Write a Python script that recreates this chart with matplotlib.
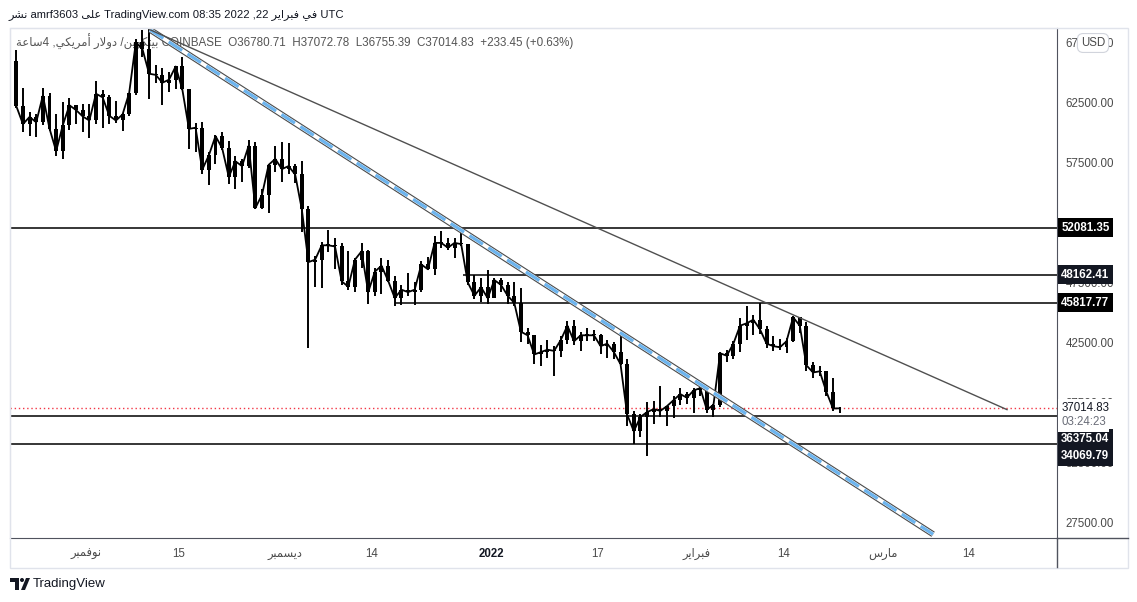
import numpy as np
import pandas as pd
import matplotlib
matplotlib.use("Agg")
import matplotlib.pyplot as plt
import matplotlib.dates as mdates
from matplotlib.patches import Rectangle, Polygon, Circle
from matplotlib.lines import Line2D
from matplotlib.transforms import Affine2D

plt.rcParams['font.family'] = ['Liberation Sans', 'DejaVu Sans']

# Arabic words, already shaped and put in visual (left-to-right) order
AR_NASHR = '\ufeae\ufeb8\ufee7'                       # نشر
AR_ALA = '\ufef0\ufee0\ufecb'                         # على
AR_FI = '\ufef2\ufed3'                                # في
AR_FEB = '\ufeae\ufef3\ufe8d\ufeae\ufe92\ufed3'       # فبراير
AR_DEC = '\ufeae\ufe92\ufee4\ufeb4\ufef3\ufea9'       # ديسمبر
AR_NOV = '\ufeae\ufe92\ufee4\ufed3\ufeee\ufee7'       # نوفمبر
AR_MAR = '\ufeb1\ufead\ufe8e\ufee3'                   # مارس
AR_BTC = '\ufee6\ufef3\ufeee\ufedc\ufe98\ufef4\ufe91' # بيتكوين
AR_DOLLAR = '\ufead\ufefb\ufeed\ufea9'                # دولار
AR_US = '\ufef2\ufedc\ufef3\ufeae\ufee3\ufe83'        # أمريكي
AR_HOUR = '\ufe94\ufecb\ufe8e\ufeb3'                  # ساعة

# ---- price data (BTC/USD, daily high / low / close) ----
first_open = 65990
oct_hi = [66900, 63700, 61700, 61500, 63700, 63300, 61500, 62500, 62900, 62300, 62400]
oct_lo = [62000, 60000, 59700, 59600, 60650, 60100, 58000, 57800, 60200, 60700, 60000]
oct_cl = [62200, 60700, 61300, 60850, 63080, 60330, 58450, 60600, 62270, 61870, 61340]

nov_hi = [62400, 64300, 63500, 63100, 62600, 61600, 63300, 67800, 68500, 69000,
          65600, 65400, 65000, 65500, 66300, 63600, 60800, 60900, 58400, 59800,
          60000, 59300, 58000, 57800, 59400, 59200, 55300, 57400, 58900, 59200]
nov_lo = [59500, 60700, 60400, 60700, 60800, 60100, 61400, 63100, 66300, 62800,
          64100, 62300, 63400, 63600, 63500, 58600, 58400, 56500, 55600, 57400,
          58500, 55700, 55300, 55900, 57000, 53600, 53600, 53300, 56700, 55900]
nov_cl = [61000, 63230, 62930, 61400, 61000, 61500, 63300, 67500, 66950, 64900,
          64800, 64150, 64400, 65500, 63600, 60300, 60400, 56900, 58100, 59700,
          58700, 56300, 57600, 57200, 58900, 53700, 54800, 57300, 57800, 56950]

dec_hi = [59100, 57400, 57600, 53900, 49700, 50900, 51900, 51200, 50800, 50100,
          49500, 50800, 50200, 48700, 49500, 49400, 48000, 47300, 48300, 47500,
          49300, 49600, 51400, 51800, 51200, 51200, 52100, 50700, 48100, 47900, 48500]
dec_lo = [56500, 55800, 51700, 42000, 47100, 47000, 50000, 48600, 47300, 46900,
          46700, 48700, 45700, 46400, 46500, 47500, 45500, 45600, 46400, 45600,
          46700, 48500, 48100, 50400, 50200, 49500, 50500, 47300, 46100, 45900, 45700]
dec_cl = [57200, 56500, 53600, 49200, 49400, 50600, 50600, 50500, 47600, 47150,
          49400, 50100, 46700, 48400, 48900, 47650, 46200, 46900, 46700, 46900,
          49000, 48600, 50800, 50800, 50400, 50800, 50700, 47500, 46400, 47100, 46200]

jan_hi = [47900, 47900, 47500, 47500, 47000, 43700, 43100, 42300, 42700, 42200,
          43000, 44300, 44400, 43400, 43700, 43500, 43200, 42700, 42500, 43500,
          41100, 36800, 36500, 37500, 37600, 38900, 37200, 38000, 38700, 38400, 38700]
jan_lo = [46200, 46700, 45700, 45500, 42500, 42400, 40700, 40500, 41200, 39700,
          41300, 42400, 42300, 41800, 42600, 42600, 41500, 41200, 41100, 40600,
          35500, 34000, 34600, 33000, 35700, 36300, 35500, 36200, 37300, 37400, 36600]
jan_cl = [47700, 47300, 46400, 45800, 43400, 43100, 41500, 41700, 41900, 41800,
          42700, 43900, 42600, 43100, 43100, 43100, 42200, 42400, 41700, 40700,
          36500, 35100, 36300, 36700, 36950, 36800, 37200, 37700, 38200, 37900, 38500]

feb_hi = [39300, 38900, 37400, 41700, 41900, 42600, 44500, 45500, 44800, 45800,
          43900, 43000, 42800, 42900, 44700, 44600, 44200, 40900, 40500, 40100,
          39500, 37100]
feb_lo = [38000, 36600, 36300, 37100, 40900, 41100, 41700, 42700, 43100, 43200,
          42000, 41800, 41900, 41600, 42500, 43300, 40100, 39500, 39700, 38000,
          36800, 36600]
feb_cl = [38700, 36900, 37300, 41600, 41400, 42400, 43900, 44100, 44400, 43600,
          42400, 42200, 42100, 42600, 44600, 43900, 40600, 40000, 40100, 38400,
          37000, 37015]

# drawn levels
full_levels = [52081.35, 36375.04, 34069.79]
partial_levels = [48162.41, 45817.77]
partial_start = ['2021-12-27 19:00', '2021-12-17 12:00']
last_price = 37014.83

# trend lines (two anchor points each)
trend_thick_t = ['2021-11-10 15:00', '2022-03-08 14:00']
trend_thick_p = [68566, 26520]
trend_thin_t = ['2021-11-10 15:00', '2022-03-19 17:00']
trend_thin_p = [68566, 36905]

price_ticks = [27500, 32500, 37500, 42500, 47500, 52500, 57500, 62500, 67500]
time_tick_dates = ['2021-11-01', '2021-11-15', '2021-12-01', '2021-12-14', '2022-01-01',
                   '2022-01-17', '2022-02-01', '2022-02-14', '2022-03-01', '2022-03-14']
time_tick_labels = [AR_NOV, '15', AR_DEC, '14', '2022', '17', AR_FEB, '14', AR_MAR, '14']

# ---- assemble ----
hi = np.array(oct_hi + nov_hi + dec_hi + jan_hi + feb_hi, dtype=float)
lo = np.array(oct_lo + nov_lo + dec_lo + jan_lo + feb_lo, dtype=float)
cl = np.array(oct_cl + nov_cl + dec_cl + jan_cl + feb_cl, dtype=float)
op = np.concatenate([[first_open], cl[:-1]])
days = pd.date_range('2021-10-21 12:00', periods=len(cl), freq='D')
x = mdates.date2num(days.to_pydatetime())

W, H = 1137, 602
fig = plt.figure(figsize=(W / 100, H / 100), dpi=100)
fig.patch.set_facecolor('white')
pix = Affine2D().scale(1, -1).translate(0, H)   # pixel coords, origin top-left


def fx(px):
    return px / W


def fy(py):
    return 1 - py / H


ax = fig.add_axes([fx(10), fy(538), fx(1057) - fx(10), fy(28) - fy(538)])
nov1 = mdates.date2num(pd.Timestamp('2021-11-01').to_pydatetime())
x_left, x_right = nov1 - 11.45, nov1 + 146.24
ax.set_xlim(x_left, x_right)
ax.set_ylim(26208, 68708)

# candles (all black, like the reference style) + close path
ax.vlines(x, lo, hi, colors='black', lw=1.4, zorder=3)
ax.bar(x, np.maximum(np.abs(cl - op), 80), bottom=np.minimum(op, cl), width=0.6,
       color='black', zorder=3)
ax.plot(x, cl, color='black', lw=1.3, zorder=3)

# horizontal levels
for p in full_levels:
    ax.axhline(p, color='black', lw=1.1, zorder=2)
for p, t in zip(partial_levels, partial_start):
    ax.hlines(p, mdates.date2num(pd.Timestamp(t).to_pydatetime()), x_right,
              color='black', lw=1.1, zorder=2)
ax.axhline(last_price, color='#f23645', lw=1.0, ls=(0, (1, 2)), zorder=2)

# trend lines
tt = mdates.date2num(pd.to_datetime(trend_thick_t).to_pydatetime())
ax.plot(tt, trend_thick_p, color='#4a4a4a', lw=4.4, solid_capstyle='butt', zorder=4)
ax.plot(tt, trend_thick_p, color='white', lw=2.8, solid_capstyle='butt', zorder=4)
ax.plot(tt, trend_thick_p, color='#6cb4ee', lw=2.3, dashes=(5, 2), zorder=4)
tn = mdates.date2num(pd.to_datetime(trend_thin_t).to_pydatetime())
ax.plot(tn, trend_thin_p, color='#505050', lw=1.0, zorder=4)

# axes styling
for side in ['left', 'top']:
    ax.spines[side].set_color('#e0e3eb')
for side in ['right', 'bottom']:
    ax.spines[side].set_color('#50535e')
ax.yaxis.tick_right()
ax.set_yticks(price_ticks)
ax.set_yticklabels(['%.2f' % v for v in price_ticks])
ax.tick_params(axis='y', length=0, pad=6, labelsize=8.3, labelcolor='#4a4a4a')
ax.set_xticks(mdates.date2num(pd.to_datetime(time_tick_dates).to_pydatetime()))
ax.set_xticklabels(time_tick_labels)
ax.tick_params(axis='x', length=0, pad=7, labelsize=8.3, labelcolor='#4a4a4a')
for lab in ax.get_xticklabels():
    if lab.get_text() == '2022':
        lab.set_color('#131722')
        lab.set_fontweight('bold')

# legend line drawn under the candles
ax.text(0.006, 0.972,
        AR_HOUR + '4 ,' + AR_US + ' ' + AR_DOLLAR + ' /' + AR_BTC +
        ' COINBASE  O36780.71  H37072.78  L36755.39  C37014.83  +233.45 (+0.63%)',
        transform=ax.transAxes, ha='left', va='center', fontsize=8.4,
        color='#555555', zorder=1)


def price_label(price, text, fc, tc, dy=0.0, weight='bold'):
    ax.annotate(text, xy=(1.0, price), xycoords=('axes fraction', 'data'),
                xytext=(3, dy), textcoords='offset points', ha='left', va='center',
                fontsize=8.3, color=tc, fontweight=weight, annotation_clip=False,
                bbox=dict(boxstyle='square,pad=0.3', fc=fc, ec='none'), zorder=6)


price_label(52081.35, '52081.35', '#000000', 'white')
price_label(48162.41, '48162.41', '#131722', 'white')
price_label(45817.77, '45817.77', '#000000', 'white')
price_label(36375.04, '36375.04', '#131722', 'white', dy=-16.5)
price_label(34069.79, '34069.79', '#131722', 'white', dy=-9.0)
price_label(last_price, '37014.83', 'white', '#131722', weight='normal')
price_label(last_price, '03:24:23', 'white', '#6a6d78', dy=-10.0, weight='normal')

# USD pill
fig.text(fx(1093), fy(43), 'USD', ha='center', va='center', fontsize=8.3,
         color='#4a4a4a', zorder=7,
         bbox=dict(boxstyle='round,pad=0.3,rounding_size=0.5', fc='white', ec='#d1d4dc', lw=0.8))

# widget frame and axis separators
fig.add_artist(Rectangle((9.5, 27.5), 1118.5, 540, transform=pix, fill=False,
                         ec='#e0e3eb', lw=1.0))
fig.add_artist(Line2D([1057, 1128], [538, 538], transform=pix, color='#50535e', lw=1.0))
fig.add_artist(Line2D([1057, 1057], [538, 567], transform=pix, color='#50535e', lw=1.0))

# header line
fig.text(fx(8), fy(15),
         AR_NASHR + ' amrf3603 ' + AR_ALA + ' TradingView.com 08:35 2022 ,22 ' +
         AR_FEB + ' ' + AR_FI + ' UTC',
         ha='left', va='center', fontsize=8.1, color='#131722')

# TradingView logo
fig.add_artist(Polygon([(10, 578), (19, 578), (19, 590), (15, 590), (15, 582), (10, 582)],
                       closed=True, transform=pix, fc='#131722', ec='none'))
fig.add_artist(Circle((22, 580), 2.0, transform=pix, fc='#131722', ec='none'))
fig.add_artist(Polygon([(21, 590), (25, 590), (30, 578), (26, 578)],
                       closed=True, transform=pix, fc='#131722', ec='none'))
fig.text(fx(33), fy(584), 'TradingView', ha='left', va='center', fontsize=9.5,
         color='#131722')

fig.savefig('out.png', dpi=100, facecolor='white')
